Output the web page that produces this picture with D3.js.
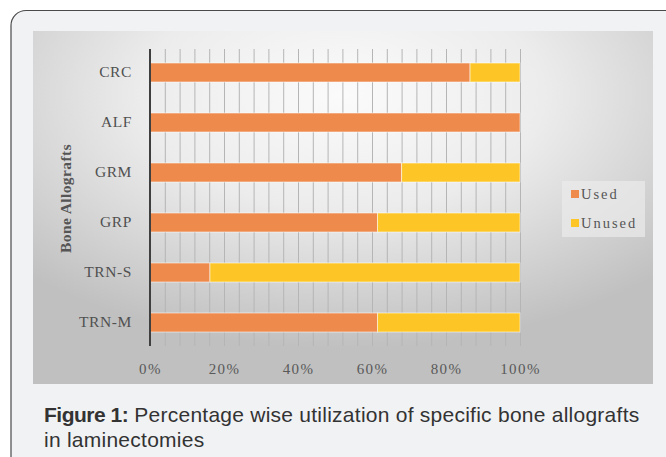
<!DOCTYPE html>
<html>
<head>
<meta charset="utf-8">
<script src="https://cdn.jsdelivr.net/npm/d3@7/dist/d3.min.js"></script>
<style>
  html, body { margin: 0; padding: 0; background: #ffffff; }
  svg { display: block; }
</style>
</head>
<body>
<svg id="fig" width="666" height="457"></svg>
<script>
// Bone allograft utilisation (percent of each graft type)
const categories = ["CRC", "ALF", "GRM", "GRP", "TRN-S", "TRN-M"];
const usedPct    = [86.5, 100, 68, 61.5, 16.2, 61.5];
const unusedPct  = [13.5, 0, 32, 38.5, 83.8, 38.5];
const seriesNames = ["Used", "Unused"];
const gridTicks  = d3.range(0, 101, 4);
const labelTicks = [0, 20, 40, 60, 80, 100];

const colors = { Used: "#ee8a4b", Unused: "#fdc526" };
const labelFont = "'Liberation Serif', 'DejaVu Serif', serif";

const svg = d3.select("#fig");
const defs = svg.append("defs");

// card behind the figure
svg.append("rect")
  .attr("x", 11).attr("y", 10.5)
  .attr("width", 680).attr("height", 470)
  .attr("rx", 15).attr("ry", 15)
  .attr("fill", "#f1f2f4")
  .attr("stroke", "#4a4a4a").attr("stroke-width", 1.2);

// chart area background gradient
const grad = defs.append("radialGradient")
  .attr("id", "bg").attr("cx", "50%").attr("cy", "18%").attr("r", "72%");
grad.append("stop").attr("offset", "0%").attr("stop-color", "#fbfbfb");
grad.append("stop").attr("offset", "45%").attr("stop-color", "#ececec");
grad.append("stop").attr("offset", "100%").attr("stop-color", "#c0c0c0");

svg.append("rect")
  .attr("x", 33).attr("y", 31)
  .attr("width", 620).attr("height", 353)
  .attr("fill", "url(#bg)");

// scales
const plotTop = 49, plotBottom = 346;
const x = d3.scaleLinear().domain([0, 100]).range([150, 520]);
const y = d3.scaleBand().domain(categories).range([plotTop, plotBottom])
  .paddingInner(0.62).paddingOuter(0.28);

// vertical gridlines
const grid = svg.append("g")
  .attr("transform", `translate(0,${plotBottom})`)
  .call(d3.axisBottom(x).tickValues(gridTicks).tickSize(-(plotBottom - plotTop)).tickFormat(""));
grid.select(".domain").remove();
grid.selectAll(".tick line").attr("stroke", "#b5b5b5").attr("stroke-width", 1);

// stacked bars
const rows = categories.map((c, i) => ({ cat: c, Used: usedPct[i], Unused: unusedPct[i] }));
const stacked = d3.stack().keys(seriesNames)(rows);

svg.append("g").selectAll("g")
  .data(stacked).join("g")
  .attr("fill", d => colors[d.key])
  .selectAll("rect")
  .data(d => d.filter(s => s[1] - s[0] > 0))
  .join("rect")
  .attr("x", d => x(d[0]))
  .attr("y", d => y(d.data.cat))
  .attr("width", d => x(d[1]) - x(d[0]))
  .attr("height", y.bandwidth())
  .attr("stroke", "rgba(255,255,255,0.55)")
  .attr("stroke-width", 1);

// category axis line
svg.append("line")
  .attr("x1", x(0)).attr("x2", x(0))
  .attr("y1", plotTop).attr("y2", plotBottom)
  .attr("stroke", "#3f3f3f").attr("stroke-width", 2);

// category labels
const yAxis = svg.append("g")
  .attr("transform", `translate(${x(0) - 18},0)`)
  .call(d3.axisLeft(y).tickSize(0).tickPadding(0));
yAxis.select(".domain").remove();
yAxis.selectAll("text")
  .attr("font-family", labelFont)
  .attr("font-size", 15.5)
  .attr("letter-spacing", "0.6px")
  .attr("fill", "#505050");

// percent labels
const xAxis = svg.append("g")
  .attr("transform", `translate(0,${plotBottom})`)
  .call(d3.axisBottom(x).tickValues(labelTicks).tickSize(0).tickPadding(17)
    .tickFormat(d => d + "%"));
xAxis.select(".domain").remove();
xAxis.selectAll("text")
  .attr("font-family", labelFont)
  .attr("font-size", 15)
  .attr("letter-spacing", "1.4px")
  .attr("fill", "#595959");

// axis title
svg.append("text")
  .attr("transform", `translate(71,${(plotTop + plotBottom) / 2 + 1}) rotate(-90)`)
  .attr("text-anchor", "middle")
  .attr("font-family", labelFont)
  .attr("font-weight", "bold")
  .attr("font-size", 15.5)
  .attr("letter-spacing", "0.4px")
  .attr("fill", "#555555")
  .text("Bone Allografts");

// legend
const legend = svg.append("g");
legend.append("rect")
  .attr("x", 562).attr("y", 181).attr("width", 83).attr("height", 56)
  .attr("fill", "rgba(235,235,235,0.7)");
seriesNames.forEach((name, i) => {
  const cy = 194 + i * 29;
  legend.append("rect")
    .attr("x", 571).attr("y", cy - 4).attr("width", 8).attr("height", 8)
    .attr("fill", colors[name]);
  legend.append("text")
    .attr("x", 581).attr("y", cy)
    .attr("dy", "0.35em")
    .attr("font-family", labelFont)
    .attr("font-size", 14.5)
    .attr("letter-spacing", "2px")
    .attr("fill", "#555555")
    .text(name);
});

// caption
const cap = svg.append("text")
  .attr("font-family", "'Liberation Sans', Arial, sans-serif")
  .attr("font-size", 21)
  .attr("fill", "#333333");
const l1 = cap.append("tspan").attr("x", 44).attr("y", 422);
l1.append("tspan").attr("font-weight", "bold").attr("letter-spacing", "-0.5px").text("Figure 1:");
l1.append("tspan").attr("letter-spacing", "0.25px")
  .text(" Percentage wise utilization of specific bone allografts");
cap.append("tspan").attr("x", 44).attr("y", 447).attr("letter-spacing", "0.25px")
  .text("in laminectomies");
</script>
</body>
</html>
